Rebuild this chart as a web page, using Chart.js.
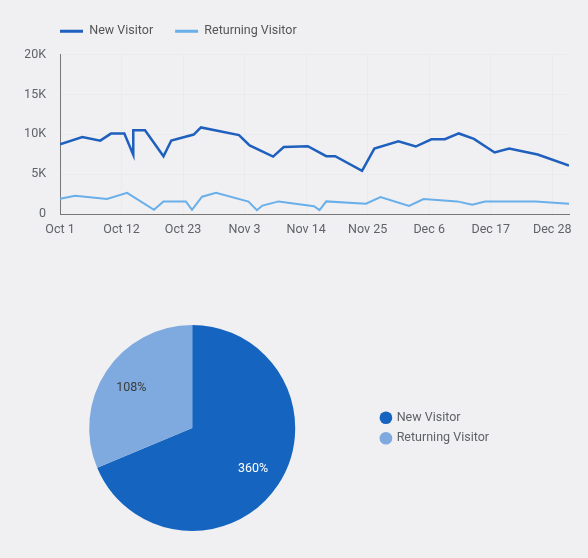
<!DOCTYPE html>
<html>
<head>
<meta charset="utf-8">
<script src="https://cdn.jsdelivr.net/npm/chart.js@4.4.1/dist/chart.umd.min.js"></script>
<style>
  html, body { margin: 0; padding: 0; background: #f0eff2; }
  body { width: 588px; height: 558px; position: relative; overflow: hidden; }
  #lineBox { position: absolute; left: 0; top: 0; width: 588px; height: 250px; }
  #pieBox { position: absolute; left: 0; top: 250px; width: 588px; height: 308px; }
</style>
</head>
<body>
<div id="lineBox"><canvas id="lineChart"></canvas></div>
<div id="pieBox"><canvas id="pieChart"></canvas></div>
<script>
// x axis: days since Oct 1
const tickLabels = ['Oct 1', 'Oct 12', 'Oct 23', 'Nov 3', 'Nov 14', 'Nov 25', 'Dec 6', 'Dec 17', 'Dec 28'];
const tickDays = [0, 11, 22, 33, 44, 55, 66, 77, 88];
const yTicks = [0, 5000, 10000, 15000, 20000];

const newDays = [0, 4, 7.2, 9.1, 11.5, 13.1, 13.1, 15.2, 18.5, 19.9, 23.9, 25.2, 32, 33.9, 38.1, 40, 44.3, 47.6, 49.2, 54, 56.2, 60.5, 63.6, 66.4, 68.8, 71.3, 74, 77.7, 80.3, 85.4, 91];
const newValues = [8750, 9640, 9200, 10080, 10080, 7420, 10500, 10500, 7230, 9220, 9960, 10850, 9900, 8600, 7200, 8400, 8500, 7250, 7250, 5420, 8200, 9120, 8460, 9370, 9370, 10100, 9420, 7710, 8210, 7460, 6080];

const retDays = [0, 2.7, 8.4, 12, 16.8, 18.5, 22.5, 23.6, 25.4, 27.9, 33.7, 35.2, 36.2, 39.1, 45.4, 46.4, 47.6, 54.7, 57.3, 62.4, 65, 71, 73.7, 76, 85, 91];
const retValues = [1920, 2300, 1880, 2650, 520, 1580, 1580, 520, 2170, 2670, 1560, 480, 1060, 1580, 980, 480, 1580, 1300, 2120, 1000, 1880, 1580, 1150, 1560, 1560, 1300];

const pieLabels = ['New Visitor', 'Returning Visitor'];
const pieShares = [68.7, 31.3];
const pieTexts = ['360%', '108%'];

Chart.defaults.font.family = 'Roboto';
Chart.defaults.font.size = 12.5;
Chart.defaults.color = '#5f6368';

const toPoints = (xs, ys) => xs.map((x, i) => ({ x: x, y: ys[i] }));

// legend: extra gap under it, and start it at the plot's left edge
const legendPlace = {
    id: 'legendPlace',
    beforeLayout(chart) {
        const lg = chart.legend;
        if (lg && !lg.patched) {
            const fit = lg.fit;
            lg.fit = function () { fit.call(this); this.height += 7; };
            lg.patched = true;
        }
    },
    afterLayout(chart) {
        const lg = chart.legend;
        const dx = chart.chartArea.left - (lg.left + lg.options.labels.padding);
        lg.left += dx;
        lg.right += dx;
    },
};

new Chart(document.getElementById('lineChart'), {
    type: 'line',
    data: {
        datasets: [
            {
                label: 'New Visitor',
                data: toPoints(newDays, newValues),
                borderColor: '#1f60be',
                backgroundColor: '#1f60be',
                borderWidth: 2.5,
                pointRadius: 0,
                tension: 0,
            },
            {
                label: 'Returning Visitor',
                data: toPoints(retDays, retValues),
                borderColor: '#69afea',
                backgroundColor: '#69afea',
                borderWidth: 2,
                pointRadius: 0,
                tension: 0,
            },
        ],
    },
    options: {
        responsive: true,
        maintainAspectRatio: false,
        animation: false,
        layout: { padding: { left: 25, right: 19, top: 3, bottom: 5 } },
        plugins: {
            legend: {
                position: 'top',
                align: 'start',
                labels: {
                    boxWidth: 23,
                    boxHeight: 3,
                    padding: 22,
                    color: '#555555',
                    generateLabels(chart) {
                        const items = Chart.defaults.plugins.legend.labels.generateLabels(chart);
                        items.forEach(it => { it.lineWidth = 0; });
                        return items;
                    },
                },
            },
            tooltip: { enabled: false },
        },
        scales: {
            x: {
                type: 'linear',
                min: 0,
                max: 91,
                afterBuildTicks: s => { s.ticks = tickDays.map(v => ({ value: v })); },
                ticks: {
                    callback: v => tickLabels[tickDays.indexOf(v)],
                    padding: 8,
                    maxRotation: 0,
                    autoSkip: false,
                    color: '#5f6368',
                },
                grid: { drawTicks: false, color: 'rgba(0,0,0,0.02)' },
                border: { color: '#777777', width: 1 },
            },
            y: {
                min: 0,
                max: 20000,
                afterBuildTicks: s => { s.ticks = yTicks.map(v => ({ value: v })); },
                afterFit: s => { s.width = 35; },
                ticks: {
                    callback: v => v === 0 ? '0' : (v / 1000) + 'K',
                    padding: 14,
                    color: '#5f6368',
                },
                grid: { drawTicks: false, color: 'rgba(0,0,0,0.02)' },
                border: { color: '#777777', width: 1 },
            },
        },
    },
    plugins: [legendPlace],
});

// percentage text inside each slice
const sliceText = {
    id: 'sliceText',
    afterDatasetsDraw(chart) {
        const ctx = chart.ctx;
        chart.getDatasetMeta(0).data.forEach((arc, i) => {
            const mid = (arc.startAngle + arc.endAngle) / 2;
            const r = arc.outerRadius * 0.71;
            ctx.save();
            ctx.font = '12.5px Roboto';
            ctx.fillStyle = i === 0 ? '#ffffff' : '#3c3c3c';
            ctx.textAlign = 'center';
            ctx.textBaseline = 'middle';
            ctx.fillText(pieTexts[i], arc.x + Math.cos(mid) * r, arc.y + Math.sin(mid) * r);
            ctx.restore();
        });
    },
};

new Chart(document.getElementById('pieChart'), {
    type: 'pie',
    data: {
        labels: pieLabels,
        datasets: [
            {
                data: pieShares,
                backgroundColor: ['#1565c0', '#7eaadf'],
                borderWidth: 0,
            },
        ],
    },
    options: {
        responsive: true,
        maintainAspectRatio: false,
        animation: false,
        layout: { padding: { left: 11, right: 89, top: 75, bottom: 27 } },
        plugins: {
            legend: {
                position: 'right',
                labels: {
                    usePointStyle: true,
                    pointStyle: 'circle',
                    boxWidth: 9,
                    boxHeight: 9,
                    padding: 8,
                    color: '#5f6368',
                },
            },
            tooltip: { enabled: false },
        },
    },
    plugins: [sliceText],
});
</script>
</body>
</html>
